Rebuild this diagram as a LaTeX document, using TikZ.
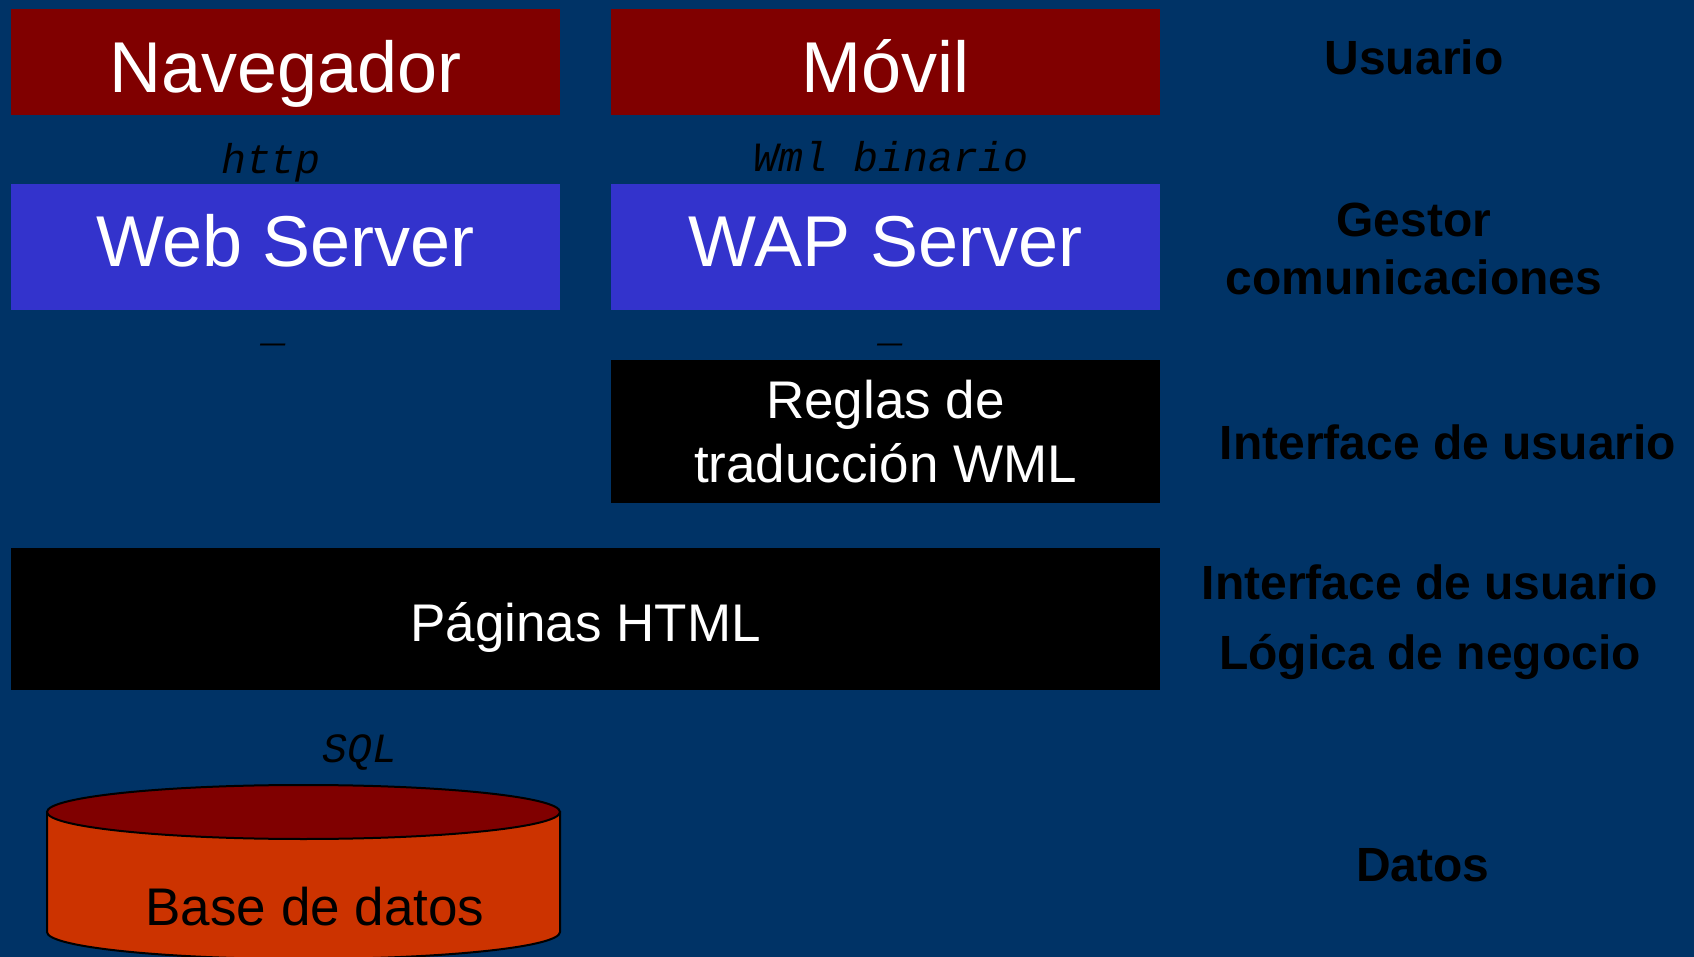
\documentclass[tikz,border=0pt]{standalone}
\usepackage{fontspec}
\setmainfont{Liberation Sans}
\setmonofont{Liberation Mono}
\definecolor{bg}{RGB}{0,51,102}
\definecolor{darkred}{RGB}{128,0,0}
\definecolor{srvblue}{RGB}{51,51,204}
\definecolor{dborange}{RGB}{204,51,0}
\begin{document}
\begin{tikzpicture}[x=0.5pt,y=-0.5pt,
  box/.style={inner sep=0pt, outer sep=0pt, text=white, align=center},
  big/.style={font=\fontsize{36pt}{43pt}\selectfont},
  mid/.style={font=\fontsize{26.5pt}{32pt}\selectfont},
  proto/.style={font=\fontsize{20.8pt}{25pt}\selectfont\ttfamily\itshape, text=black, inner sep=0pt, anchor=base},
  layer/.style={text=black, align=center, inner sep=0pt}]
\useasboundingbox (0,0) rectangle (1694,957);
\fill[bg] (0,0) rectangle (1694,957);
% top row
\node[box, big, fill=darkred, minimum width=274.5pt, minimum height=53pt, text height=33pt, text depth=2pt] (nav) at (285.5,62) {Navegador};
\node[box, big, fill=darkred, minimum width=274.5pt, minimum height=53pt, text height=33pt, text depth=2pt] (mov) at (885.5,62) {Móvil};
% servers
\node[box, big, fill=srvblue, minimum width=274.5pt, minimum height=63pt, text height=27pt, text depth=7pt] (web) at (285.5,247) {Web Server};
\node[box, big, fill=srvblue, minimum width=274.5pt, minimum height=63pt, text height=27pt, text depth=7pt] (wap) at (885.5,247) {WAP Server};
% rules
\node[box, mid, fill=black, minimum width=274.5pt, minimum height=71.5pt] (reg) at (885.5,431.5) {Reglas de\\traducción WML};
% html pages
\node[box, mid, fill=black, minimum width=574.5pt, minimum height=71pt, text height=27pt, text depth=5pt] (pag) at (585.5,619) {Páginas HTML};
% database cylinder
\filldraw[fill=dborange, draw=black, line width=1pt] (47,812) -- (47,932) arc[start angle=180, end angle=360, x radius=128.25pt, y radius=13.5pt] -- (560,812) -- cycle;
\filldraw[fill=darkred, draw=black, line width=1pt] (303.5,812) ellipse [x radius=128.25pt, y radius=13.5pt];
\node[mid, text=black, inner sep=0pt] (db) at (315,907) {Base de datos};
% protocol labels
\node[proto] (phttp) at (271,174) {http};
\node[proto] (pwml) at (891,172) {Wml binario};
\node[proto] (psql) at (360,762) {SQL};
\node[proto] (d1) at (276,342) {\_};
\node[proto] (d2) at (893,342) {\_};
% layer labels
\node[layer, font=\fontsize{24pt}{29pt}\selectfont\bfseries] (lusr) at (1414,57) {Usuario};
\node[layer, font=\fontsize{24pt}{29pt}\selectfont\bfseries] (lgest) at (1414,249) {Gestor\\comunicaciones};
\node[layer, font=\fontsize{24pt}{29pt}\selectfont\bfseries] (lint) at (1448,442) {Interface de usuario};
\node[layer, font=\fontsize{24pt}{35pt}\selectfont\bfseries] (llog) at (1430,622) {Interface de usuario\\Lógica de negocio};
\node[layer, font=\fontsize{24pt}{29pt}\selectfont\bfseries] (ldat) at (1423,865) {Datos};
\end{tikzpicture}
\end{document}
